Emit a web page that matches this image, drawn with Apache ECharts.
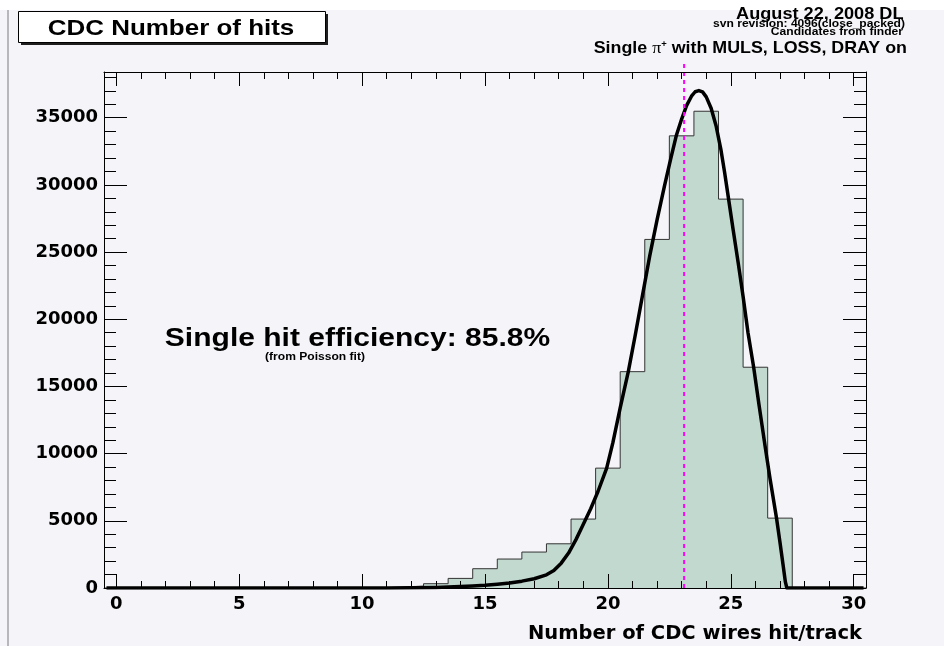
<!DOCTYPE html>
<html>
<head>
<meta charset="utf-8">
<script src="https://cdn.jsdelivr.net/npm/echarts@6/dist/echarts.min.js"></script>
<style>
  html, body { margin: 0; padding: 0; background: #ffffff; }
  #chart { width: 944px; height: 646px; }
</style>
</head>
<body>
<div id="chart"></div>
<script>
// Histogram: number of CDC wires hit per track (bins centred on integers)
const binCenters = [0, 1, 2, 3, 4, 5, 6, 7, 8, 9, 10, 11, 12, 13, 14, 15, 16, 17, 18, 19, 20,
                    21, 22, 23, 24, 25, 26, 27, 28, 29, 30];
const binCounts  = [0, 0, 0, 0, 0, 0, 0, 0, 0, 0, 10, 50, 140, 320, 715, 1435, 2155, 2675, 3290, 5130, 8920,
                    16100, 25940, 33650, 35480, 28940, 16430, 5200, 0, 0, 0];

// Poisson fit curve, sampled along the x axis
const fitX = [-0.4, 10, 11, 12, 13, 14, 14.5, 15, 15.5, 16, 16.5, 17, 17.5, 17.8, 18.1, 18.4, 18.7, 19.0,
              19.3, 19.6, 19.95, 20.2, 20.5, 20.83, 21.1, 21.4, 21.7, 22.0, 22.3, 22.55, 22.78, 23.0, 23.2,
              23.4, 23.55, 23.7, 23.85, 24.0, 24.2, 24.4, 24.6, 24.75, 24.91, 25.1, 25.3, 25.5, 25.7, 25.93,
              26.15, 26.4, 26.6, 26.86, 27.0, 27.12, 27.22, 27.28, 30.4];
const fitY = [0, 0, 5, 15, 45, 110, 150, 200, 280, 380, 510, 690, 980, 1300, 1850, 2600, 3600, 4750,
              5900, 7200, 8920, 10800, 13400, 16100, 18700, 21700, 24700, 27400, 29900, 31900, 33650, 34900, 35900,
              36600, 36930, 37020, 36920, 36550, 35700, 34400, 32600, 30900, 28940, 26600, 24200, 21700, 19000, 16430,
              13600, 10500, 8100, 5200, 3400, 1800, 450, 0, 0];

// Mean number of hits (dotted marker) and its drawn height
const meanHits = 23.1;
const meanLineTop = 39200;

// Axis ticks and labels
const xMajorTicks = [0, 5, 10, 15, 20, 25, 30];
const xMinorTicks = [0, 1, 2, 3, 4, 5, 6, 7, 8, 9, 10, 11, 12, 13, 14, 15, 16, 17, 18, 19, 20,
                     21, 22, 23, 24, 25, 26, 27, 28, 29, 30];
const yMajorTicks = [0, 5000, 10000, 15000, 20000, 25000, 30000, 35000];
const yMinorTicks = [1000, 2000, 3000, 4000, 6000, 7000, 8000, 9000, 11000, 12000, 13000, 14000,
                     16000, 17000, 18000, 19000, 21000, 22000, 23000, 24000, 26000, 27000, 28000, 29000,
                     31000, 32000, 33000, 34000, 36000, 37000, 38000];

const X_MIN = -0.5, X_MAX = 30.5, Y_MAX = 38400;

// Step outline through bin edges
const histEdges = binCenters.map((c, i) => [c - 0.5, binCounts[i]]);
histEdges.push([binCenters[binCenters.length - 1] + 0.5, binCounts[binCounts.length - 1]]);

const fitData = fitX.map((x, i) => [x, fitY[i]]);
const meanData = [[meanHits, 0], [meanHits, meanLineTop]];

const axisFont = { fontFamily: 'DejaVu Sans', fontWeight: 'bold', fontSize: 18, color: '#000' };
const black = { color: '#000', width: 1 };
const plain = v => String(v);

function xAxisDef(position, ticks, len, showLine, showLabels) {
  return {
    type: 'value', position: position, min: X_MIN, max: X_MAX, z: 5,
    axisLine: { show: showLine, onZero: false, lineStyle: black },
    axisTick: { show: true, inside: true, length: len, customValues: ticks, lineStyle: black },
    axisLabel: Object.assign({ show: showLabels, customValues: xMajorTicks, margin: 7, formatter: plain }, axisFont),
    splitLine: { show: false }
  };
}
function yAxisDef(position, ticks, len, showLine, showLabels) {
  return {
    type: 'value', position: position, min: 0, max: Y_MAX, z: 5,
    axisLine: { show: showLine, onZero: false, lineStyle: black },
    axisTick: { show: true, inside: true, length: len, customValues: ticks, lineStyle: black },
    axisLabel: Object.assign({ show: showLabels, customValues: yMajorTicks, margin: 6, formatter: plain }, axisFont),
    splitLine: { show: false }
  };
}

const xMain = xAxisDef('bottom', xMajorTicks, 14, true, true);
xMain.name = 'Number of CDC wires hit/track';
xMain.nameLocation = 'end';
xMain.nameGap = -4;
xMain.nameTextStyle = {
  fontFamily: 'DejaVu Sans', fontWeight: 'bold', fontSize: 19.5, color: '#000',
  align: 'right', verticalAlign: 'top', padding: [36, 0, 0, 0]
};

const chart = echarts.init(document.getElementById('chart'), null, { renderer: 'canvas' });

chart.setOption({
  backgroundColor: '#f5f4f8',
  animation: false,
  grid: { left: 104, right: 78, top: 72, bottom: 58, containLabel: false },
  xAxis: [
    xMain,
    xAxisDef('bottom', xMinorTicks, 7, false, false),
    xAxisDef('top', xMajorTicks, 14, true, false),
    xAxisDef('top', xMinorTicks, 7, false, false)
  ],
  yAxis: [
    yAxisDef('left', yMajorTicks, 23, true, true),
    yAxisDef('left', yMinorTicks, 12, false, false),
    yAxisDef('right', yMajorTicks, 23, true, false),
    yAxisDef('right', yMinorTicks, 12, false, false)
  ],
  series: [
    {
      name: 'hits', type: 'line', step: 'end', data: histEdges,
      xAxisIndex: 0, yAxisIndex: 0, symbol: 'none', silent: true,
      lineStyle: { color: '#333333', width: 1 },
      areaStyle: { color: '#c2d9d0', opacity: 1 },
      z: 2
    },
    {
      name: 'fit', type: 'line', data: fitData, smooth: false,
      xAxisIndex: 0, yAxisIndex: 0, symbol: 'none', silent: true,
      lineStyle: { color: '#000000', width: 3.5, join: 'round' },
      z: 3
    },
    {
      name: 'mean', type: 'line', data: meanData,
      xAxisIndex: 0, yAxisIndex: 0, symbol: 'none', silent: true, clip: false,
      lineStyle: { color: '#ff00ff', width: 2, type: [4, 4] },
      z: 4
    }
  ],
  graphic: [
    { type: 'rect', silent: true, z: -10, shape: { x: 0, y: 0, width: 944, height: 10 }, style: { fill: '#ffffff' } },
    { type: 'line', silent: true, shape: { x1: 8, y1: 10, x2: 8, y2: 646 }, style: { stroke: '#b8b8bc', lineWidth: 2 } },
    // title pave with shadow
    { type: 'rect', silent: true, shape: { x: 21, y: 14, width: 307, height: 31 }, style: { fill: '#1e1e1e' } },
    { type: 'rect', silent: true, shape: { x: 18.5, y: 11.5, width: 307, height: 31 }, style: { fill: '#ffffff', stroke: '#000', lineWidth: 1 } },
    { type: 'text', silent: true, x: 171, y: 28.5, scaleX: 1.18,
      style: { text: 'CDC Number of hits', fontFamily: 'Liberation Sans', fontWeight: 'bold', fontSize: 22, fill: '#000', align: 'center', verticalAlign: 'middle' } },
    // run information
    { type: 'text', silent: true, x: 903.5, y: 14.2, scaleX: 1.1,
      style: { text: 'August 22, 2008 DL', fontFamily: 'Liberation Sans', fontWeight: 'bold', fontSize: 16.5, fill: '#000', align: 'right', verticalAlign: 'middle' } },
    { type: 'text', silent: true, x: 905, y: 24.5, scaleX: 1.15,
      style: { text: 'svn revision: 4096(close_packed)', fontFamily: 'Liberation Sans', fontWeight: 'bold', fontSize: 10.5, fill: '#000', align: 'right', verticalAlign: 'middle' } },
    { type: 'text', silent: true, x: 903, y: 31.8, scaleX: 1.15,
      style: { text: 'Candidates from finder', fontFamily: 'Liberation Sans', fontWeight: 'bold', fontSize: 10.5, fill: '#000', align: 'right', verticalAlign: 'middle' } },
    { type: 'text', silent: true, x: 907, y: 48.5, scaleX: 1.05,
      style: {
        text: '{b|Single }{p|π}{s|+}{b| with MULS, LOSS, DRAY on}',
        align: 'right', verticalAlign: 'middle',
        rich: {
          b: { fontFamily: 'Liberation Sans', fontWeight: 'bold', fontSize: 17, fill: '#000', verticalAlign: 'bottom' },
          p: { fontFamily: 'Liberation Serif', fontWeight: 'normal', fontSize: 17, fill: '#000', verticalAlign: 'bottom' },
          s: { fontFamily: 'Liberation Sans', fontWeight: 'bold', fontSize: 9, fill: '#000', verticalAlign: 'top' }
        }
      } },
    // efficiency annotation
    { type: 'text', silent: true, x: 357.5, y: 339, scaleX: 1.177,
      style: { text: 'Single hit efficiency: 85.8%', fontFamily: 'Liberation Sans', fontWeight: 'bold', fontSize: 25.5, fill: '#000', align: 'center', verticalAlign: 'middle' } },
    { type: 'text', silent: true, x: 315, y: 357, scaleX: 1.15,
      style: { text: '(from Poisson fit)', fontFamily: 'Liberation Sans', fontWeight: 'bold', fontSize: 10.5, fill: '#000', align: 'center', verticalAlign: 'middle' } }
  ]
});
</script>
</body>
</html>
